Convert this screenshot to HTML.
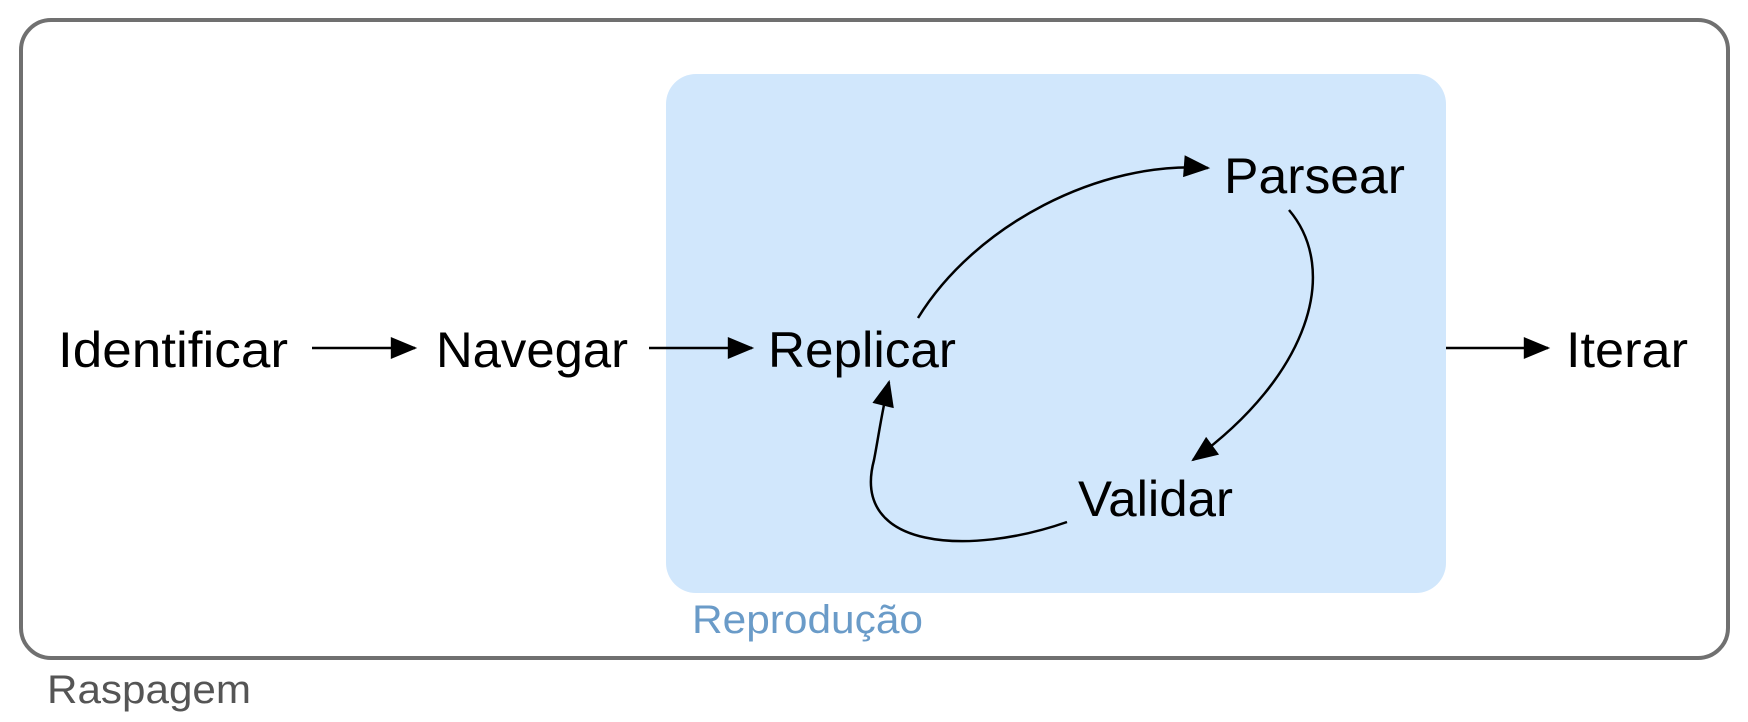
<!DOCTYPE html>
<html><head><meta charset="utf-8"><style>
html,body{margin:0;padding:0;background:#fff;}
svg{display:block;}
text{font-family:"Liberation Sans",Arial,sans-serif;}
</style></head><body>
<svg width="1748" height="722" viewBox="0 0 1748 722" xmlns="http://www.w3.org/2000/svg">
<defs>
<marker id="ar" viewBox="0 0 12 10" refX="11" refY="5" markerWidth="28" markerHeight="22" markerUnits="userSpaceOnUse" orient="auto"><path d="M0,0 L12,5 L0,10 Z" fill="#000"/></marker>
</defs>
<rect x="21" y="20" width="1707" height="638" rx="30" fill="#fff" stroke="#707070" stroke-width="4"/>
<rect x="666" y="74" width="780" height="519" rx="30" fill="#d1e7fc"/>
<text x="692" y="633" font-size="40" fill="#6a9bc8" textLength="231" lengthAdjust="spacingAndGlyphs">Reprodução</text>
<text x="47" y="703" font-size="40" fill="#555" textLength="204" lengthAdjust="spacingAndGlyphs">Raspagem</text>
<g font-size="50" fill="#000">
<text x="58" y="367" textLength="230" lengthAdjust="spacingAndGlyphs">Identificar</text>
<text x="436" y="367" textLength="192" lengthAdjust="spacingAndGlyphs">Navegar</text>
<text x="768" y="367" textLength="188" lengthAdjust="spacingAndGlyphs">Replicar</text>
<text x="1566" y="367" textLength="122" lengthAdjust="spacingAndGlyphs">Iterar</text>
<text x="1224" y="193" textLength="181" lengthAdjust="spacingAndGlyphs">Parsear</text>
<text x="1078" y="516" textLength="155" lengthAdjust="spacingAndGlyphs">Validar</text>
</g>
<g stroke="#000" stroke-width="2.5" fill="none" marker-end="url(#ar)">
<line x1="312" y1="348" x2="415" y2="348"/>
<line x1="649" y1="348" x2="752" y2="348"/>
<line x1="1446" y1="348" x2="1548" y2="348"/>
<path d="M918,318 C975,225 1100,160 1208,168"/>
<path d="M1289,210 C1340,270 1310,375 1193,460"/>
<path d="M1067,522 C970,556 850,550 874,460 C878,440 882,410 889,382"/>
</g>
</svg>
</body></html>
